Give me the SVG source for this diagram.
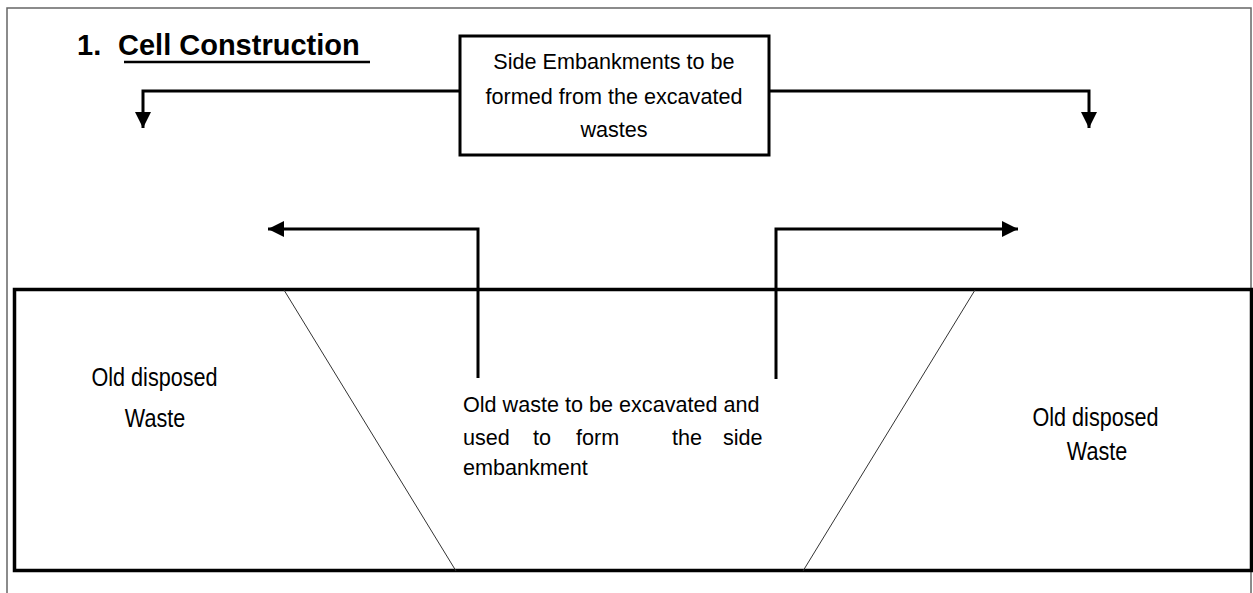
<svg xmlns="http://www.w3.org/2000/svg" width="1253" height="593" viewBox="0 0 1253 593">
<style>
text{font-family:"Liberation Sans",Arial,sans-serif;fill:#000}
.lbl{font-size:21.6px}
.title{font-size:29px;font-weight:bold}
.conn{fill:none;stroke:#000;stroke-width:3}
.thin{fill:none;stroke:#333;stroke-width:1}
</style>
<defs>
<marker id="ah" viewBox="0 0 10 10" refX="10" refY="5" markerUnits="userSpaceOnUse" markerWidth="16" markerHeight="16" orient="auto">
<path d="M0,0 L10,5 L0,10 Z" fill="#000"/>
</marker>
</defs>
<rect width="1253" height="593" fill="#fff"/>
<rect id="frame" x="7" y="8" width="1244" height="600" fill="none" stroke="#666" stroke-width="1.5"/>
<g id="title">
<text class="title" x="77" y="55">1.</text>
<text class="title" x="118" y="55">Cell Construction</text>
<line x1="124" y1="62" x2="370" y2="62" stroke="#000" stroke-width="2.5"/>
</g>
<g id="pit">
<rect x="14.5" y="289.5" width="1237" height="281" fill="none" stroke="#000" stroke-width="3.5"/>
<line class="thin" x1="284" y1="290" x2="456" y2="571"/>
<line class="thin" x1="975" y1="290" x2="803" y2="571"/>
</g>
<g id="connectors">
<path class="conn" d="M459,91 H143 V128" stroke-width="2.5" marker-end="url(#ah)"/>
<path class="conn" d="M770,91 H1089 V128" stroke="#333" stroke-width="2" marker-end="url(#ah)"/>
<path class="conn" d="M478,378 V229 H268" marker-end="url(#ah)"/>
<path class="conn" d="M776,379 V229 H1018" stroke-width="2.5" marker-end="url(#ah)"/>
</g>
<g id="box">
<rect x="460" y="36" width="309" height="119" fill="#fff" stroke="#000" stroke-width="3"/>
<text class="lbl" x="614" y="69" text-anchor="middle">Side Embankments to be</text>
<text class="lbl" x="614" y="104" text-anchor="middle">formed from the excavated</text>
<text class="lbl" x="614" y="137" text-anchor="middle">wastes</text>
</g>
<g id="left-waste">
<text class="lbl" text-anchor="middle" transform="translate(154.5,386) scale(1,1.2)">Old disposed</text>
<text class="lbl" text-anchor="middle" transform="translate(155,427) scale(1,1.2)">Waste</text>
</g>
<g id="centre-waste">
<text class="lbl" x="463" y="412">Old waste to be excavated and</text>
<text class="lbl" y="445"><tspan x="463">used</tspan><tspan x="533">to</tspan><tspan x="576">form</tspan><tspan x="672">the</tspan><tspan x="723">side</tspan></text>
<text class="lbl" x="463" y="475">embankment</text>
</g>
<g id="right-waste">
<text class="lbl" text-anchor="middle" transform="translate(1095.5,426) scale(1,1.2)">Old disposed</text>
<text class="lbl" text-anchor="middle" transform="translate(1097,460) scale(1,1.2)">Waste</text>
</g>
</svg>
